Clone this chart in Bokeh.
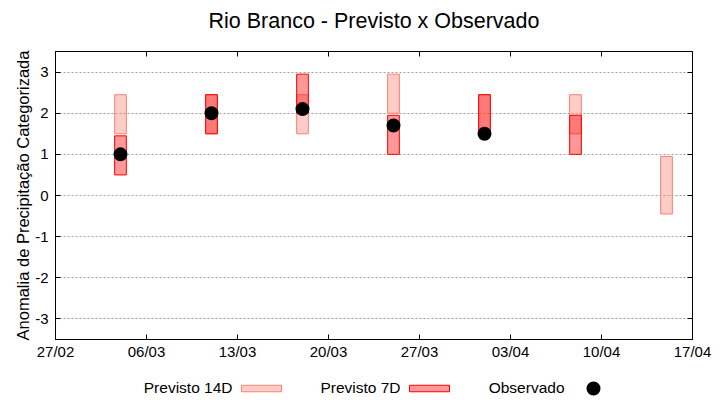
import pandas as pd
from bokeh.plotting import figure
from bokeh.layouts import column
from bokeh.models import (Range1d, FixedTicker, DatetimeTickFormatter, PrintfTickFormatter,
                          LinearAxis, DatetimeAxis)
from bokeh.core.properties import value
from bokeh.embed import file_html
from bokeh.resources import INLINE

nan = float("nan")

# ---- data ----
dates = ["2023-03-04", "2023-03-11", "2023-03-18", "2023-03-25",
         "2023-04-01", "2023-04-08", "2023-04-15"]
prev14_low = [1.5, 1.5, 1.5, 2.0, 1.5, 1.5, -0.45]
prev14_high = [2.45, 2.45, 2.45, 2.95, 2.45, 2.45, 0.95]
prev7_low = [0.5, 1.5, 2.0, 1.0, 1.5, 1.0, nan]
prev7_high = [1.45, 2.45, 2.95, 1.95, 2.45, 1.95, nan]
observed = [1.0, 2.0, 2.1, 1.7, 1.5, nan, nan]

tick_dates = ["2023-02-27", "2023-03-06", "2023-03-13", "2023-03-20",
              "2023-03-27", "2023-04-03", "2023-04-10", "2023-04-17"]
y_ticks = [-3, -2, -1, 0, 1, 2, 3]

title_text = "Rio Branco - Previsto x Observado"
y_label = "Anomalia de Precipitação Categorizada"
label_14 = "Previsto 14D"
label_7 = "Previsto 7D"
label_obs = "Observado"

# ---- styles ----
FONT = "Liberation Sans"
c14_line = "#fa8072"
c14_fill = "#fa8072"
c7_line = "#ff0000"
c7_fill = "#ff0000"
fill_alpha = 0.4
bar_width_ms = 0.9 * 86400000

x = pd.to_datetime(dates)
x_ticks_ms = [pd.Timestamp(d).value / 1e6 for d in tick_dates]

TITLE_H = 50
PLOT_H = 316
LEG_H = 400 - TITLE_H - PLOT_H
FRAME_L, FRAME_R = 55, 692


def strip(height):
    f = figure(width=720, height=height, output_backend="svg", toolbar_location=None,
               x_range=Range1d(FRAME_L, FRAME_R), y_range=Range1d(height, 0),
               x_axis_location=None, y_axis_location=None,
               min_border_left=FRAME_L, min_border_right=720 - FRAME_R,
               min_border_top=0, min_border_bottom=0, outline_line_color=None)
    f.grid.visible = False
    f.background_fill_color = "white"
    f.border_fill_color = "white"
    return f


# ---- title strip ----
top = strip(TITLE_H)
top.text(x=[(FRAME_L + FRAME_R) / 2], y=[20], text=[title_text],
         text_align="center", text_baseline="alphabetic",
         text_font=value(FONT), text_font_size="21.5px", text_color="#000000")

# ---- main plot ----
p = figure(width=720, height=PLOT_H, output_backend="svg", toolbar_location=None,
           x_axis_type="datetime",
           x_range=Range1d(pd.Timestamp(tick_dates[0]), pd.Timestamp(tick_dates[-1])),
           y_range=Range1d(-3.5, 3.5),
           min_border_left=FRAME_L, min_border_right=720 - FRAME_R, min_border_top=1,
           min_border_bottom=PLOT_H - (339 - TITLE_H))

p.outline_line_color = "#000000"
p.outline_line_width = 1
p.background_fill_color = "white"
p.border_fill_color = "white"

p.xgrid.visible = False
p.ygrid.grid_line_color = "#a0a0a0"
p.ygrid.grid_line_dash = "2 2"
p.ygrid.grid_line_width = 1

xticker = FixedTicker(ticks=x_ticks_ms)
yticker = FixedTicker(ticks=y_ticks)
fmt = DatetimeTickFormatter(days="%d/%m", months="%d/%m", hours="%d/%m",
                            minutes="%d/%m", years="%d/%m")

p.xaxis.ticker = xticker
p.xaxis.formatter = fmt
p.yaxis.ticker = yticker
p.yaxis.formatter = PrintfTickFormatter(format="%d")
p.ygrid.ticker = yticker

for ax in (p.xaxis[0], p.yaxis[0]):
    ax.major_tick_in = 5
    ax.major_tick_out = 0
    ax.minor_tick_in = 0
    ax.minor_tick_out = 0
    ax.axis_line_color = "#000000"
    ax.major_tick_line_color = "#000000"
    ax.major_label_text_font = FONT
    ax.major_label_text_font_size = "15px"
    ax.major_label_text_color = "#000000"

p.xaxis.major_label_standoff = 3
p.yaxis.major_label_standoff = 7
p.yaxis.axis_label = y_label
p.yaxis.axis_label_text_font = FONT
p.yaxis.axis_label_text_font_size = "16.5px"
p.yaxis.axis_label_text_font_style = "normal"
p.yaxis.axis_label_text_color = "#000000"
p.yaxis.axis_label_standoff = 0

# mirrored tick marks on the right and top edges (minor ticks only, no labels)
right_ax = LinearAxis(ticker=FixedTicker(ticks=[], minor_ticks=y_ticks),
                      major_tick_in=0, major_tick_out=0, minor_tick_in=5, minor_tick_out=0,
                      minor_tick_line_color="#000000", axis_line_color="#000000",
                      major_label_standoff=0)
top_ax = DatetimeAxis(ticker=FixedTicker(ticks=[], minor_ticks=x_ticks_ms), formatter=fmt,
                      major_tick_in=0, major_tick_out=0, minor_tick_in=5, minor_tick_out=0,
                      minor_tick_line_color="#000000", axis_line_color="#000000",
                      major_label_standoff=0)
p.add_layout(right_ax, "right")
p.add_layout(top_ax, "above")

# ---- bars and points ----
p.vbar(x=x, width=bar_width_ms, bottom=prev14_low, top=prev14_high,
       fill_color=c14_fill, fill_alpha=fill_alpha, line_color=c14_line, line_width=1)
p.vbar(x=x, width=bar_width_ms, bottom=prev7_low, top=prev7_high,
       fill_color=c7_fill, fill_alpha=fill_alpha, line_color=c7_line, line_width=1)
p.scatter(x=x, y=observed, size=12, marker="circle",
          fill_color="#000000", line_color="#000000", line_width=2)

# ---- legend strip (gnuplot style: text, then its sample) ----
leg = strip(LEG_H)
off = TITLE_H + PLOT_H
sample_left = [241, 409, 573]     # px positions of the samples in the strip
sample_w = 40
text_gap = 9
row_y = 388 - off                 # sample centre line
text_y = 387 - off                # text line

leg.text(x=[s - text_gap for s in sample_left], y=[text_y] * 3,
         text=[label_14, label_7, label_obs], text_align="right", text_baseline="alphabetic",
         text_font=value(FONT), text_font_size="15.5px", text_color="#000000")
leg.rect(x=[s + sample_w / 2 for s in sample_left[:2]], y=[row_y] * 2,
         width=sample_w, height=6.5,
         fill_color=[c14_fill, c7_fill], fill_alpha=fill_alpha,
         line_color=[c14_line, c7_line], line_width=1)
leg.scatter(x=[sample_left[2] + sample_w / 2], y=[row_y], size=12, marker="circle",
            fill_color="#000000", line_color="#000000", line_width=2)

layout = column(top, p, leg, spacing=0)
open("out.html", "w").write(file_html(layout, INLINE))
